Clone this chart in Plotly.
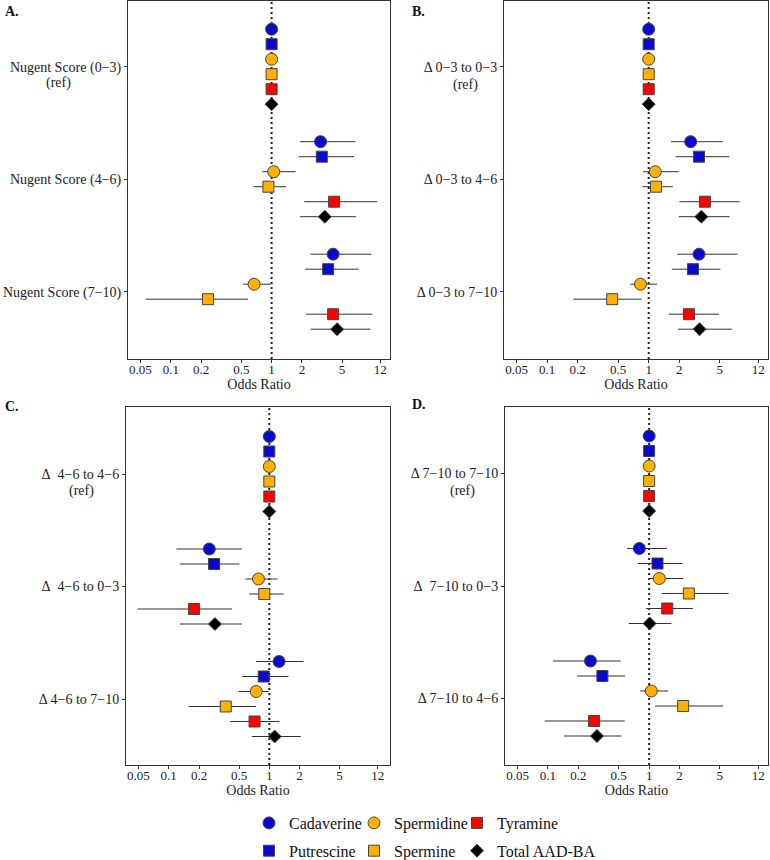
import plotly.graph_objects as go

FONT = "Liberation Serif, Times New Roman, Times, serif"

series = ["Cadaverine", "Putrescine", "Spermidine", "Spermine", "Tyramine", "Total AAD-BA"]
colors = ["#0A0ACC", "#0A0ACC", "#FFB000", "#FFB000", "#FF0000", "#000000"]
symbols = ["circle", "square", "circle", "square", "square", "diamond"]
sizes = [12, 11, 12, 11, 11, 10]
legend_of = ["legend", "legend", "legend2", "legend2", "legend3", "legend3"]

# group labels (y tick labels)
labels_A = ["Nugent Score (0−3)", "Nugent Score (4−6)", "Nugent Score (7−10)"]
labels_B = ["Δ 0−3 to 0−3", "Δ 0−3 to 4−6", "Δ 0−3 to 7−10"]
labels_C = ["Δ\u00a0 4−6 to 4−6", "Δ\u00a0 4−6 to 0−3", "Δ 4−6 to 7−10"]
labels_D = ["Δ 7−10 to 7−10", "Δ\u00a0 7−10 to 0−3", "Δ 7−10 to 4−6"]

# odds ratios: rows = series (Cadaverine, Putrescine, Spermidine, Spermine, Tyramine, Total), cols = groups
A_or = [[1, 3.06, 4.08], [1, 3.15, 3.64], [1, 1.05, 0.67], [1, 0.93, 0.234], [1, 4.17, 4.08], [1, 3.37, 4.47]]
A_lo = [[1, 1.91, 2.43], [1, 1.86, 2.15], [1, 0.81, 0.52], [1, 0.66, 0.0565], [1, 2.11, 2.20], [1, 1.92, 2.45]]
A_hi = [[1, 6.79, 9.78], [1, 6.58, 7.32], [1, 1.73, 0.98], [1, 1.39, 0.583], [1, 11.2, 10.0], [1, 6.89, 9.55]]

B_or = [[1, 2.59, 3.13], [1, 3.13, 2.73], [1, 1.16, 0.83], [1, 1.18, 0.437], [1, 3.58, 2.49], [1, 3.30, 3.17]]
B_lo = [[1, 1.66, 1.91], [1, 1.84, 1.69], [1, 0.88, 0.66], [1, 0.865, 0.181], [1, 2.01, 1.58], [1, 1.98, 1.94]]
B_hi = [[1, 5.36, 7.49], [1, 6.24, 5.08], [1, 1.97, 1.21], [1, 1.73, 0.853], [1, 7.84, 4.93], [1, 6.24, 6.58]]

C_or = [[1, 0.253, 1.25], [1, 0.282, 0.88], [1, 0.78, 0.74], [1, 0.89, 0.369], [1, 0.178, 0.713], [1, 0.288, 1.13]]
C_lo = [[1, 0.119, 0.74], [1, 0.129, 0.537], [1, 0.58, 0.497], [1, 0.63, 0.158], [1, 0.049, 0.407], [1, 0.129, 0.67]]
C_hi = [[1, 0.533, 2.19], [1, 0.505, 1.55], [1, 1.21, 0.985], [1, 1.39, 0.74], [1, 0.427, 1.26], [1, 0.533, 2.06]]

D_or = [[1, 0.80, 0.263], [1, 1.21, 0.345], [1, 1.26, 1.05], [1, 2.47, 2.17], [1, 1.51, 0.285], [1, 1.01, 0.305]]
D_lo = [[1, 0.605, 0.112], [1, 0.77, 0.194], [1, 0.98, 0.815], [1, 1.33, 1.15], [1, 0.93, 0.0927], [1, 0.63, 0.144]]
D_hi = [[1, 1.50, 0.524], [1, 2.14, 0.578], [1, 2.17, 1.54], [1, 6.10, 5.4], [1, 2.71, 0.574], [1, 1.66, 0.532]]

x_tickvals = [0.05, 0.1, 0.2, 0.5, 1, 2, 5, 12]
x_ticktext = ["0.05", "0.1", "0.2", "0.5", "1", "2", "5", "12"]

group_centers = [0, 7.5, 15]

W, H = 770, 860

panels = [
    dict(key="", letter="A.", labels=labels_A, OR=A_or, LO=A_lo, HI=A_hi,
         px=(128, 390), py=(0.5, 359), c1=66.7, xr=[-1.425, 1.175], letpos=(3, 11), refpos=(58, 83)),
    dict(key="2", letter="B.", labels=labels_B, OR=B_or, LO=B_lo, HI=B_hi,
         px=(504, 768), py=(0.5, 359), c1=66.7, xr=[-1.425, 1.175], letpos=(410, 11), refpos=(465, 85)),
    dict(key="3", letter="C.", labels=labels_C, OR=C_or, LO=C_lo, HI=C_hi,
         px=(126, 390), py=(406.5, 765), c1=474, xr=[-1.425, 1.2], letpos=(3, 406), refpos=(81, 491)),
    dict(key="4", letter="D.", labels=labels_D, OR=D_or, LO=D_lo, HI=D_hi,
         px=(505, 768), py=(406.5, 765), c1=473.5, xr=[-1.425, 1.175], letpos=(410, 405), refpos=(462, 491)),
]

fig = go.Figure()
annotations = []
shapes = []
layout_axes = {}

for pi, p in enumerate(panels):
    k = p["key"]
    for si, s in enumerate(series):
        ys = [gc + (si - 2.5) for gc in group_centers]
        orv = p["OR"][si]
        lo = p["LO"][si]
        hi = p["HI"][si]
        fig.add_trace(go.Scatter(
            x=orv, y=ys, mode="markers", name=s,
            xaxis="x" + k, yaxis="y" + k,
            legend=legend_of[si], legendgroup=s, showlegend=(pi == 0),
            marker=dict(color=colors[si], symbol=symbols[si], size=sizes[si],
                        line=dict(color="#444444", width=1)),
            error_x=dict(type="data", symmetric=False,
                         array=[h - o for h, o in zip(hi, orv)],
                         arrayminus=[o - l for o, l in zip(orv, lo)],
                         color="#333333", thickness=1, width=0),
            hoverinfo="x+name",
        ))
    x0, x1 = p["px"]
    y0, y1 = p["py"]
    ylo = (y1 - p["c1"]) / 15.0
    yhi = (y0 - p["c1"]) / 15.0
    layout_axes["xaxis" + k] = dict(
        type="log", range=p["xr"], domain=[x0 / W, x1 / W], anchor="y" + k, automargin=False,
        tickvals=x_tickvals, ticktext=x_ticktext, ticks="outside", ticklen=3,
        ticklabelstandoff=-5,
        tickcolor="#333333", showline=True, linecolor="#333333", linewidth=1, mirror=True,
        showgrid=False, zeroline=False, tickfont=dict(family=FONT, size=13, color="#222222"),
        title=dict(text="Odds Ratio", font=dict(family=FONT, size=14, color="#222222"), standoff=0),
    )
    layout_axes["yaxis" + k] = dict(
        range=[ylo, yhi], domain=[1 - y1 / H, 1 - y0 / H], anchor="x" + k, automargin=False,
        tickvals=group_centers, ticktext=p["labels"], ticks="outside", ticklen=3,
        tickcolor="#333333", showline=True, linecolor="#333333", linewidth=1, mirror=True,
        showgrid=False, zeroline=False, tickfont=dict(family=FONT, size=14, color="#222222"),
    )
    shapes.append(dict(type="line", xref="x" + k, yref="y" + k + " domain", x0=1, x1=1, y0=0, y1=1,
                       line=dict(color="#222222", width=2, dash="2px,3px"), layer="below"))
    annotations.append(dict(text="<b>" + p["letter"] + "</b>", xref="paper", yref="paper",
                            x=p["letpos"][0] / W, y=1 - p["letpos"][1] / H, xanchor="left", yanchor="middle",
                            showarrow=False, font=dict(family=FONT, size=14, color="#111111")))
    annotations.append(dict(text="(ref)", xref="paper", yref="paper",
                            x=p["refpos"][0] / W, y=1 - p["refpos"][1] / H, xanchor="center", yanchor="middle",
                            showarrow=False, font=dict(family=FONT, size=14, color="#222222")))

leg_common = dict(orientation="v", yanchor="top", xanchor="left", tracegroupgap=4,
                  font=dict(family=FONT, size=16, color="#111111"), itemwidth=30,
                  bgcolor="rgba(0,0,0,0)")
fig.update_layout(
    width=W, height=H, margin=dict(l=0, r=0, t=0, b=0, autoexpand=False),
    paper_bgcolor="white", plot_bgcolor="white",
    font=dict(family=FONT, color="#222222"),
    annotations=annotations, shapes=shapes,
    legend=dict(x=249 / W, y=1 - 806 / H, **leg_common),
    legend2=dict(x=354 / W, y=1 - 806 / H, **leg_common),
    legend3=dict(x=457 / W, y=1 - 806 / H, **leg_common),
    **layout_axes,
)

fig.write_html("out.html", config={"displayModeBar": False},
               post_script="document.body.style.margin='0';document.body.style.overflow='hidden';")
